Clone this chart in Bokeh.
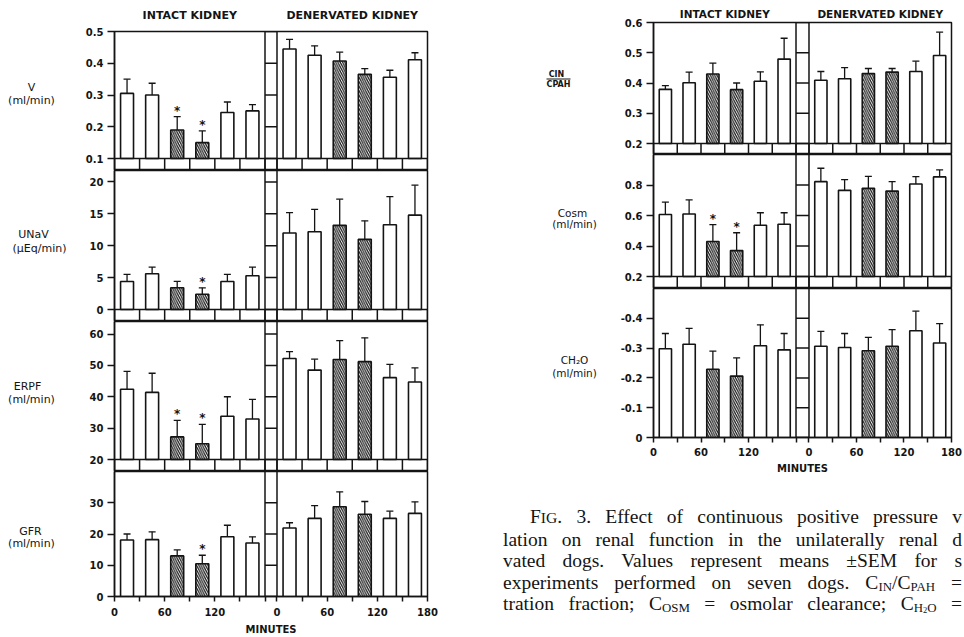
from bokeh.plotting import figure
from bokeh.layouts import row, column
from bokeh.models import Range1d, FixedTicker, Span, ColumnDataSource, LinearAxis, Div
from bokeh.core.properties import value
from bokeh.embed import file_html
from bokeh.resources import INLINE

# ------------------------------------------------------------------ data
PERIOD_MID = [15, 45, 75, 105, 135, 165]          # minutes (centre of each 30-min period)
PERIOD_EDGES = [0, 30, 60, 90, 120, 150, 180]
PPV = [False, False, True, True, False, False]    # hatched = positive pressure ventilation
X_LABELS_INTACT = ["0", "", "60", "", "120", "", ""]
X_LABELS_DENERV = ["0", "", "60", "", "120", "", "180"]
GROUP_TITLES = ["INTACT KIDNEY", "DENERVATED KIDNEY"]

V_INTACT = [0.305, 0.300, 0.190, 0.150, 0.245, 0.250]
V_INTACT_SEM = [0.045, 0.037, 0.042, 0.037, 0.033, 0.020]
V_DENERV = [0.445, 0.425, 0.407, 0.365, 0.356, 0.411]
V_DENERV_SEM = [0.030, 0.030, 0.028, 0.018, 0.022, 0.022]
V_STARS = [False, False, True, True, False, False]
V_TICKS = [0.1, 0.2, 0.3, 0.4, 0.5]
V_TICK_LABELS = ["0.1", "0.2", "0.3", "0.4", "0.5"]

UNAV_INTACT = [4.4, 5.6, 3.4, 2.4, 4.4, 5.3]
UNAV_INTACT_SEM = [1.1, 1.05, 1.0, 1.0, 1.1, 1.35]
UNAV_DENERV = [12.0, 12.2, 13.2, 11.0, 13.3, 14.8]
UNAV_DENERV_SEM = [3.2, 3.5, 4.1, 2.9, 4.4, 4.7]
UNAV_STARS = [False, False, False, True, False, False]
UNAV_TICKS = [0, 5, 10, 15, 20]
UNAV_TICK_LABELS = ["0", "5", "10", "15", "20"]

ERPF_INTACT = [42.4, 41.4, 27.2, 25.0, 33.8, 32.9]
ERPF_INTACT_SEM = [5.7, 6.1, 5.3, 6.2, 6.2, 6.3]
ERPF_DENERV = [52.2, 48.5, 51.9, 51.2, 46.1, 44.7]
ERPF_DENERV_SEM = [2.2, 3.5, 6.0, 7.6, 4.2, 4.5]
ERPF_STARS = [False, False, True, True, False, False]
ERPF_TICKS = [20, 30, 40, 50, 60]
ERPF_TICK_LABELS = ["20", "30", "40", "50", "60"]

GFR_INTACT = [18.1, 18.2, 13.0, 10.5, 19.1, 17.1]
GFR_INTACT_SEM = [1.9, 2.5, 1.9, 2.7, 3.7, 2.0]
GFR_DENERV = [21.9, 25.0, 28.7, 26.3, 25.0, 26.6]
GFR_DENERV_SEM = [1.7, 4.1, 4.8, 4.1, 2.3, 3.7]
GFR_STARS = [False, False, False, True, False, False]
GFR_TICKS = [0, 10, 20, 30]
GFR_TICK_LABELS = ["0", "10", "20", "30"]

FF_INTACT = [0.379, 0.401, 0.430, 0.378, 0.406, 0.479]
FF_INTACT_SEM = [0.012, 0.035, 0.036, 0.022, 0.031, 0.069]
FF_DENERV = [0.409, 0.414, 0.431, 0.436, 0.438, 0.491]
FF_DENERV_SEM = [0.029, 0.037, 0.017, 0.012, 0.034, 0.077]
FF_STARS = [False] * 6
FF_TICKS = [0.2, 0.3, 0.4, 0.5, 0.6]
FF_TICK_LABELS = ["0.2", "0.3", "0.4", "0.5", "0.6"]

COSM_INTACT = [0.607, 0.610, 0.430, 0.370, 0.536, 0.543]
COSM_INTACT_SEM = [0.081, 0.092, 0.110, 0.117, 0.082, 0.075]
COSM_DENERV = [0.822, 0.765, 0.778, 0.760, 0.807, 0.853]
COSM_DENERV_SEM = [0.088, 0.070, 0.079, 0.062, 0.048, 0.046]
COSM_STARS = [False, False, True, True, False, False]
COSM_TICKS = [0.2, 0.4, 0.6, 0.8]
COSM_TICK_LABELS = ["0.2", "0.4", "0.6", "0.8"]

CH2O_INTACT = [-0.298, -0.313, -0.229, -0.206, -0.308, -0.294]
CH2O_INTACT_SEM = [0.051, 0.053, 0.061, 0.061, 0.070, 0.055]
CH2O_DENERV = [-0.306, -0.302, -0.291, -0.306, -0.358, -0.317]
CH2O_DENERV_SEM = [0.050, 0.047, 0.045, 0.056, 0.066, 0.065]
CH2O_STARS = [False] * 6
CH2O_TICKS = [0, -0.1, -0.2, -0.3, -0.4]
CH2O_TICK_LABELS = ["0", "-0.1", "-0.2", "-0.3", "-0.4"]

CAPTION_LINES = [
    'F<span class="sc">IG</span>. 3. Effect of continuous positive pressure v',
    "lation on renal function in the unilaterally renal d",
    "vated dogs. Values represent means \u00b1SEM for s",
    "experiments performed on seven dogs. C<sub>IN</sub>/C<sub>PAH</sub> =",
    "tration fraction; C<sub>OSM</sub> = osmolar clearance; C<sub>H<sub>2</sub>O</sub> =",
]

# ------------------------------------------------------------------ style / layout
FONT = "DejaVu Sans"
INK = "#141414"
BAR_W = 15.5
LW = 1.5
BAR_LW = 1.6

LEFT_GRP = dict(lab_x0=0, lab_x1=80, frame_left=114, frame_w=313, border_right=13,
                brk=14.35, title_size="11px", title_standoff=10)
RIGHT_GRP = dict(lab_x0=440, lab_x1=610, frame_left=653, frame_w=298, border_right=13,
                 brk=16.4, title_size="10.5px", title_standoff=3)


def style_axis(ax, tick_out=7, standoff=4, size="10px"):
    ax.axis_line_color = INK
    ax.axis_line_width = LW
    ax.major_tick_line_color = INK
    ax.major_tick_line_width = LW
    ax.major_tick_out = tick_out
    ax.major_tick_in = 0
    ax.minor_tick_out = 0
    ax.minor_tick_in = 0
    ax.minor_tick_line_color = None
    ax.major_label_standoff = standoff
    ax.major_label_text_font = FONT
    ax.major_label_text_font_size = size
    ax.major_label_text_font_style = "bold"
    ax.major_label_text_color = INK


def plain_fig(**kw):
    p = figure(output_backend="svg", toolbar_location=None,
               x_axis_location=None, y_axis_location=None, **kw)
    p.grid.grid_line_color = None
    p.outline_line_color = None
    p.background_fill_color = "white"
    p.border_fill_color = "white"
    return p


def make_panel(grp, frame_top, top_border, main_px, strip_px, bottom_border,
               base, top, ticks, tick_labels, intact, intact_sem, denerv, denerv_sem,
               stars_intact, labels, titles=False, x_axis=None, err_dir=1, fraction=None):
    span_x = 360 + grp["brk"]
    off = 180 + grp["brk"]
    ppu = main_px / (top - base)
    y_start = base - strip_px / ppu
    frame_h = main_px + strip_px
    border_left = grp["frame_left"] - grp["lab_x1"]
    width = border_left + grp["frame_w"] + grp["border_right"]
    height = top_border + frame_h + bottom_border

    p = figure(width=width, height=height,
               x_range=Range1d(0, span_x), y_range=Range1d(y_start, top),
               output_backend="svg", toolbar_location=None,
               x_axis_location="below" if x_axis else None, y_axis_location="left",
               min_border_left=border_left, min_border_right=grp["border_right"],
               min_border_top=top_border, min_border_bottom=bottom_border)
    p.grid.grid_line_color = None
    p.outline_line_color = INK
    p.outline_line_width = LW
    p.background_fill_color = "white"
    p.border_fill_color = "white"

    style_axis(p.yaxis[0])
    p.yaxis[0].ticker = FixedTicker(ticks=ticks)
    p.yaxis[0].major_label_overrides = dict(zip(ticks, tick_labels))

    if x_axis:
        ax = p.xaxis[0]
        style_axis(ax, tick_out=5, standoff=x_axis["standoff"])
        xt = list(PERIOD_EDGES) + [off + e for e in PERIOD_EDGES]
        ax.ticker = FixedTicker(ticks=xt)
        ax.major_label_overrides = dict(zip(xt, X_LABELS_INTACT + X_LABELS_DENERV))
        ax.axis_label = "MINUTES"
        ax.axis_label_text_font = FONT
        ax.axis_label_text_font_size = "10px"
        ax.axis_label_text_font_style = "bold"
        ax.axis_label_text_color = INK
        ax.axis_label_standoff = x_axis["label_standoff"]

    if titles:
        centres = [PERIOD_EDGES[-1] / 2, off + PERIOD_EDGES[-1] / 2]
        tax = LinearAxis(ticker=FixedTicker(ticks=centres),
                         major_label_overrides=dict(zip(centres, GROUP_TITLES)))
        tax.axis_line_color = None
        tax.major_tick_line_color = None
        tax.minor_tick_line_color = None
        tax.major_tick_out = 0
        tax.major_tick_in = 0
        tax.major_label_standoff = grp["title_standoff"]
        tax.major_label_text_font = FONT
        tax.major_label_text_font_size = grp["title_size"]
        tax.major_label_text_font_style = "bold"
        tax.major_label_text_color = INK
        p.add_layout(tax, "above")

    # break column between the two kidneys
    for loc in (180, off):
        p.add_layout(Span(location=loc, dimension="height", line_color=INK, line_width=LW))
    p.segment(x0=[180] * len(ticks), x1=[off] * len(ticks), y0=ticks, y1=ticks,
              line_color=INK, line_width=LW)

    # strip of period boxes under the bars
    if strip_px > 0:
        p.add_layout(Span(location=base, dimension="width", line_color=INK, line_width=LW))
        edges = list(PERIOD_EDGES) + [off + e for e in PERIOD_EDGES]
        p.segment(x0=edges, x1=edges, y0=[y_start] * len(edges), y1=[base] * len(edges),
                  line_color=INK, line_width=LW)

    # bars, whiskers, stars
    xs = list(PERIOD_MID) + [off + m for m in PERIOD_MID]
    vals = list(intact) + list(denerv)
    sems = list(intact_sem) + list(denerv_sem)
    hatch = list(PPV) + list(PPV)
    stars = list(stars_intact) + [False] * 6
    ends = [v + err_dir * s for v, s in zip(vals, sems)]

    plain = ColumnDataSource(dict(x=[x for x, h in zip(xs, hatch) if not h],
                                  top=[v for v, h in zip(vals, hatch) if not h]))
    hatched = ColumnDataSource(dict(x=[x for x, h in zip(xs, hatch) if h],
                                    top=[v for v, h in zip(vals, hatch) if h]))
    err = ColumnDataSource(dict(x=xs, top=vals, end=ends))

    p.segment(x0="x", y0="top", x1="x", y1="end", source=err, line_color=INK, line_width=1.3)
    p.scatter(x="x", y="end", source=err, marker="dash", size=7, line_color=INK, line_width=1.3)
    p.vbar(x="x", top="top", bottom=base, width=BAR_W, source=plain,
           fill_color="white", line_color=INK, line_width=BAR_LW)
    p.vbar(x="x", top="top", bottom=base, width=BAR_W, source=hatched,
           fill_color="white", line_color=INK, line_width=BAR_LW,
           hatch_pattern="left_diagonal_line", hatch_color=INK,
           hatch_scale=4.5, hatch_weight=1.2)

    sx = [x for x, s in zip(xs, stars) if s]
    if sx:
        sy = [e for e, s in zip(ends, stars) if s]
        p.text(x=sx, y=sy, text=["*"] * len(sx), text_font=value(FONT),
               text_font_size=value("12px"), text_font_style=value("bold"),
               text_color=INK, text_align=value("center"), text_baseline=value("middle"),
               y_offset=-6)

    # label figure to the left (coordinates = page pixels)
    lab = plain_fig(width=grp["lab_x1"] - grp["lab_x0"], height=height,
                    x_range=Range1d(grp["lab_x0"], grp["lab_x1"]),
                    y_range=Range1d(frame_top + frame_h, frame_top),
                    min_border_left=0, min_border_right=0,
                    min_border_top=top_border, min_border_bottom=bottom_border)
    lab.text(x=[l[1] for l in labels], y=[l[2] for l in labels], text=[l[0] for l in labels],
             text_font=value(FONT), text_font_size=value(labels[0][3]),
             text_font_style=value(labels[0][4]), text_color=INK,
             text_align=value("center"), text_baseline=value("middle"))
    if fraction:
        x0a, x1a, ya = fraction
        lab.segment(x0=[x0a], x1=[x1a], y0=[ya], y1=[ya], line_color=INK, line_width=1.1)
    return row(lab, p)


LAB = "11px"
RLAB = "10.5px"
l1 = make_panel(LEFT_GRP, 31, 31, 127, 12, 0, 0.1, 0.5, V_TICKS, V_TICK_LABELS,
                V_INTACT, V_INTACT_SEM, V_DENERV, V_DENERV_SEM, V_STARS,
                [("V", 31, 87, LAB, "normal"), ("(ml/min)", 31, 100, LAB, "normal")],
                titles=True)
l2 = make_panel(LEFT_GRP, 170, 0, 139, 12, 0, 0, 21.8, UNAV_TICKS, UNAV_TICK_LABELS,
                UNAV_INTACT, UNAV_INTACT_SEM, UNAV_DENERV, UNAV_DENERV_SEM, UNAV_STARS,
                [("UNaV", 33, 234, LAB, "normal"), ("(\u00b5Eq/min)", 39, 248, LAB, "normal")])
l3 = make_panel(LEFT_GRP, 321, 0, 138, 12, 0, 20, 64, ERPF_TICKS, ERPF_TICK_LABELS,
                ERPF_INTACT, ERPF_INTACT_SEM, ERPF_DENERV, ERPF_DENERV_SEM, ERPF_STARS,
                [("ERPF", 27, 386, LAB, "normal"), ("(ml/min)", 31, 399, LAB, "normal")])
l4 = make_panel(LEFT_GRP, 471, 0, 126, 0, 40, 0, 40, GFR_TICKS, GFR_TICK_LABELS,
                GFR_INTACT, GFR_INTACT_SEM, GFR_DENERV, GFR_DENERV_SEM, GFR_STARS,
                [("GFR", 30, 531, LAB, "normal"), ("(ml/min)", 31, 544, LAB, "normal")],
                x_axis=dict(standoff=6, label_standoff=5))

r1 = make_panel(RIGHT_GRP, 22, 22, 121, 11, 0, 0.2, 0.6, FF_TICKS, FF_TICK_LABELS,
                FF_INTACT, FF_INTACT_SEM, FF_DENERV, FF_DENERV_SEM, FF_STARS,
                [("CIN", 556, 74, "8px", "bold"), ("CPAH", 558, 83.5, "8px", "bold")],
                titles=True, fraction=(546, 570, 78.5))
r2 = make_panel(RIGHT_GRP, 154, 0, 122, 12, 0, 0.2, 1.0, COSM_TICKS, COSM_TICK_LABELS,
                COSM_INTACT, COSM_INTACT_SEM, COSM_DENERV, COSM_DENERV_SEM, COSM_STARS,
                [("Cosm", 572, 212, RLAB, "normal"), ("(ml/min)", 574, 223.5, RLAB, "normal")])
r3 = make_panel(RIGHT_GRP, 288, 0, 150, 0, 38, 0, -0.5, CH2O_TICKS, CH2O_TICK_LABELS,
                CH2O_INTACT, CH2O_INTACT_SEM, CH2O_DENERV, CH2O_DENERV_SEM, CH2O_STARS,
                [("CH\u2082O", 574, 360, RLAB, "normal"), ("(ml/min)", 574, 373, RLAB, "normal")],
                x_axis=dict(standoff=5, label_standoff=4), err_dir=-1)

# caption block (justified, like the printed page)
CAP_W, CAP_H = 524, 161
css = ("<style>"
       ".cap{font-family:'Liberation Serif','Times New Roman',serif;font-size:19.5px;"
       "line-height:21.5px;color:#141414;padding:30px 2px 0 63px;box-sizing:border-box;"
       "width:%dpx;height:%dpx;overflow:hidden;background:white}"
       ".ln{text-align:justify;text-align-last:justify}"
       ".first{text-indent:27px}"
       "sub{font-size:66%%;line-height:0;vertical-align:-0.15em}"
       ".sc{font-size:80%%}"
       "</style>") % (CAP_W, CAP_H)
body = "".join('<div class="ln%s">%s</div>' % (" first" if i == 0 else "", t)
               for i, t in enumerate(CAPTION_LINES))
caption = Div(text=css + '<div class="cap">' + body + "</div>",
              width=CAP_W, height=CAP_H, margin=0)

layout = row(column(l1, l2, l3, l4), column(r1, r2, r3, caption))

with open("out.html", "w") as f:
    f.write(file_html(layout, INLINE))
